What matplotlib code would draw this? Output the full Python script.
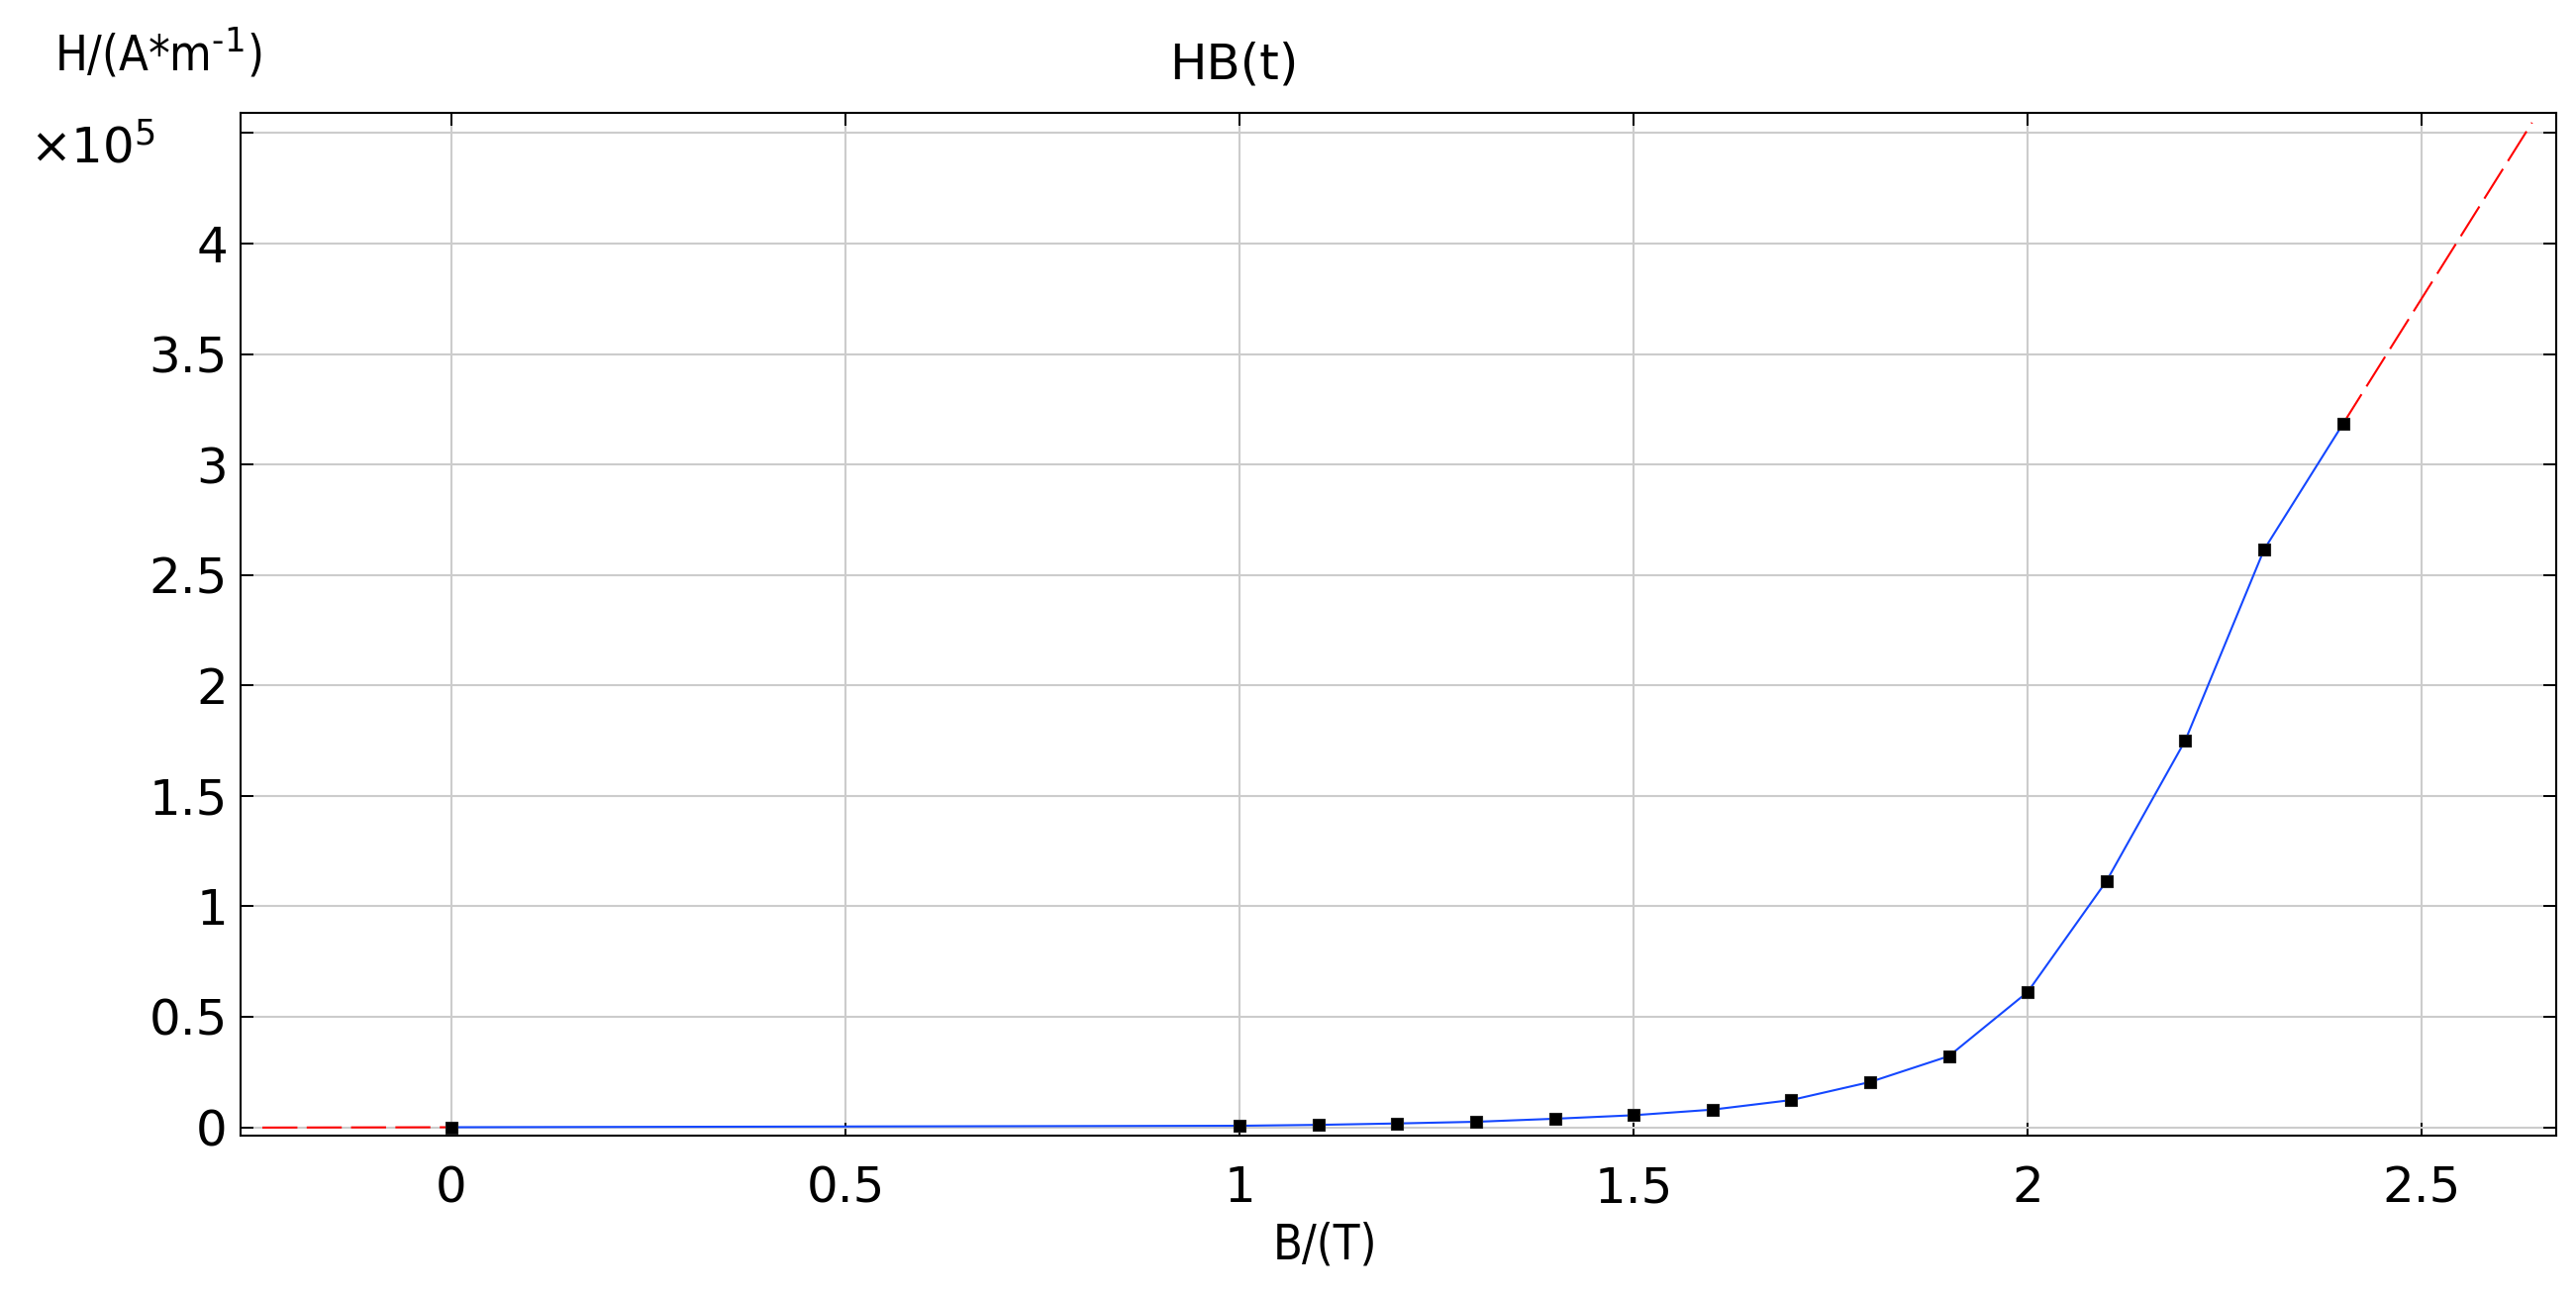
import matplotlib
matplotlib.use('Agg')
import matplotlib.pyplot as plt
from matplotlib import font_manager

# HB-Kurve (Messpunkte)
B = [0.0, 1.0, 1.1, 1.2, 1.3, 1.4, 1.5, 1.6, 1.7, 1.8, 1.9, 2.0, 2.1, 2.2, 2.3, 2.4]
H = [0, 663.146, 1067.5, 1705.23, 2463.11, 3841.67, 5425.74, 7957.75, 12298.3,
     20462.8, 32169.6, 61213.4, 111408, 175070, 261469, 318310]

# lineare Extrapolation (rot gestrichelt)
B_ext_left = [-0.24, 0.0]
H_ext_left = [-159, 0]
B_ext_right = [2.4, 2.64]
H_ext_right = [318310, 454728]

xticks = [0, 0.5, 1, 1.5, 2, 2.5]
xlabels = ['0', '0.5', '1', '1.5', '2', '2.5']
yticks = [0, 0.5e5, 1e5, 1.5e5, 2e5, 2.5e5, 3e5, 3.5e5, 4e5, 4.5e5]
ylabels = ['0', '0.5', '1', '1.5', '2', '2.5', '3', '3.5', '4', '']

# Achsenbeschriftungen etwas schmaler (Condensed, falls vorhanden)
cond = font_manager.FontProperties(family='DejaVu Sans', stretch='condensed')
if 'Condensed' in font_manager.findfont(cond):
    lab_font = dict(family='DejaVu Sans', stretch='condensed', fontsize=35)
else:
    lab_font = dict(family='DejaVu Sans', fontsize=31)

fig = plt.figure(figsize=(26.02, 13.11), dpi=100)
ax = fig.add_axes([0.0934, 0.1251, 0.9923 - 0.0934, 0.9130 - 0.1251])

ax.plot(B, H, color='#1447ff', lw=1.5, zorder=3)
ax.plot(B_ext_left, H_ext_left, color='#ff0000', lw=1.5, linestyle=(0, (17, 4.5)), zorder=3)
ax.plot(B_ext_right, H_ext_right, color='#ff0000', lw=1.5, linestyle=(0, (17, 4.5)), zorder=3)
ax.plot(B, H, linestyle='none', marker='s', ms=8.7, mfc='black', mec='#202020', mew=0.8, zorder=4)

ax.set_xlim(-0.2676, 2.6706)
ax.set_ylim(-3800, 459100)
ax.set_xticks(xticks)
ax.set_xticklabels(xlabels)
ax.set_yticks(yticks)
ax.set_yticklabels(ylabels)

ax.grid(True, color='#cccccc', lw=1.5)
ax.set_axisbelow(True)
for s in ax.spines.values():
    s.set_linewidth(1.5)
    s.set_color('black')
ax.tick_params(axis='both', direction='in', length=9.4, width=1.4, labelsize=36,
               top=True, right=True)
ax.tick_params(axis='x', pad=21)
ax.tick_params(axis='y', pad=9.4)

fig.text(0.4789, 1 - 79 / 1311, 'HB(t)', fontsize=36, ha='center', va='baseline')
fig.text(0.5146, 1 - 1272 / 1311, 'B/(T)', ha='center', va='baseline', **lab_font)
fig.text(55 / 2602, 1 - 72 / 1311, 'H/(A*m$^{\u20101}$)', ha='left', va='baseline', **lab_font)
fig.text(30 / 2602, 1 - 165 / 1311, r'$\mathregular{\times10^{5}}$', fontsize=36, ha='left', va='baseline')

fig.savefig('out.png', dpi=100)
